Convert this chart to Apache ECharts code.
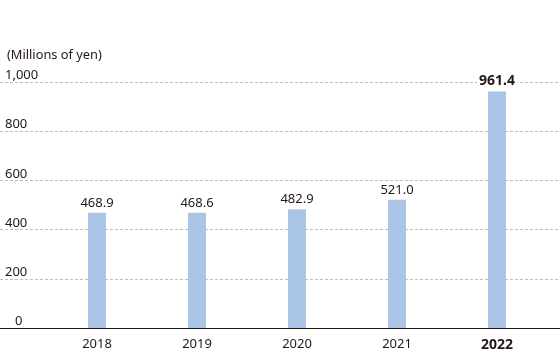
<!DOCTYPE html>
<html>
<head>
<meta charset="utf-8">
<script src="https://cdn.jsdelivr.net/npm/echarts@6/dist/echarts.min.js"></script>
<style>html,body{margin:0;padding:0;background:#fff}#c{width:560px;height:352px}</style>
</head>
<body>
<div id="c"></div>
<script>
const years = [2018, 2019, 2020, 2021, 2022];
const values = [468.9, 468.6, 482.9, 521.0, 961.4];
const yTicks = [0, 200, 400, 600, 800, 1000];
const unitLabel = '(Millions of yen)';

const FONT = '"Noto Sans", "Open Sans", sans-serif';
const TXT = '#231815';
const chart = echarts.init(document.getElementById('c'), null, {renderer: 'canvas'});
const last = years[years.length - 1];
chart.setOption({
  animation: false,
  title: {
    text: unitLabel, left: 2, top: 44,
    textStyle: {fontFamily: FONT, fontSize: 12.8, fontWeight: 'normal', color: TXT}
  },
  grid: {left: 0, right: 0, top: 82, bottom: 20, containLabel: false},
  xAxis: {
    type: 'value', min: 2017.03, max: 2022.63,
    axisLine: {show: true, lineStyle: {color: '#231815', width: 1.2}},
    axisTick: {show: false},
    splitLine: {show: false},
    axisLabel: {
      customValues: years,
      margin: 10,
      fontFamily: FONT, fontSize: 13, color: TXT,
      formatter: v => v === last ? '{b|' + v + '}' : String(v),
      rich: {b: {fontFamily: FONT, fontSize: 14, fontWeight: 'bold', color: TXT}}
    }
  },
  yAxis: {
    type: 'value', min: 0, max: 1000, interval: 200,
    axisLine: {show: false}, axisTick: {show: false},
    splitLine: {show: true, lineStyle: {color: '#bdbdbd', type: [3, 2], width: 1}},
    axisLabel: {
      inside: true, align: 'left', verticalAlign: 'bottom', margin: 5,
      fontFamily: FONT, fontSize: 13, color: TXT,
      formatter: v => v === 0 ? '{z|0}' : (v >= 1000 ? '1,000' : String(v)),
      rich: {z: {padding: [0, 0, 0, 10], fontFamily: FONT, fontSize: 13, color: TXT}}
    }
  },
  series: [{
    type: 'bar', barWidth: 18,
    data: years.map((y, i) => ({
      value: [y, values[i]],
      label: y === last ? {fontWeight: 'bold', fontSize: 14} : {}
    })),
    itemStyle: {color: '#a9c4e5'},
    label: {
      show: true, position: 'top', distance: 3,
      fontFamily: FONT, fontSize: 13, color: TXT,
      formatter: p => p.value[1].toFixed(1),
      backgroundColor: '#fff', padding: [0, 2, 0, 2]
    }
  }]
});
</script>
</body>
</html>
